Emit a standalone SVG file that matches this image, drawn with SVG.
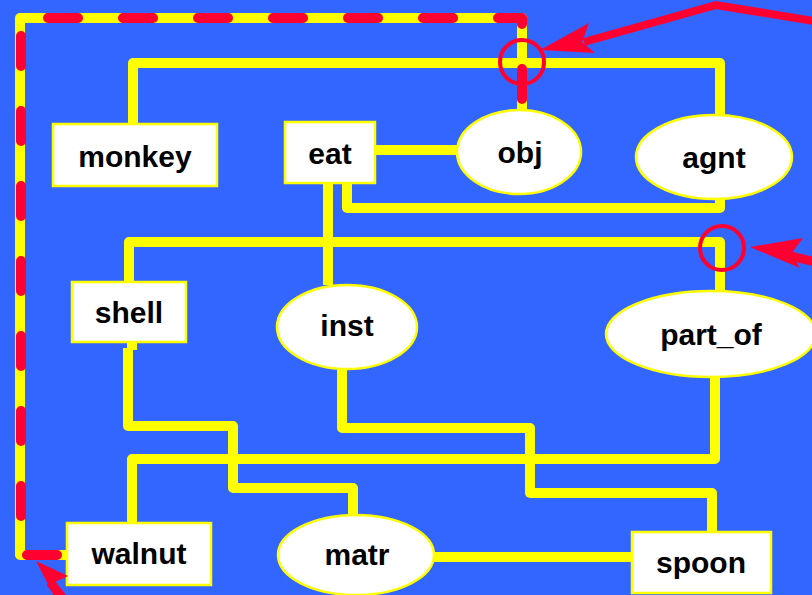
<svg xmlns="http://www.w3.org/2000/svg" width="812" height="595" viewBox="0 0 812 595">
  <style>
    .wire { fill: none; stroke: #FFFF00; stroke-width: 10; stroke-linejoin: round; stroke-linecap: butt; }
    .box { fill: #FFFFFF; stroke: #FFFF00; stroke-width: 2.5; }
    .label { font-family: "Liberation Sans", Arial, sans-serif; font-weight: bold; font-size: 30px; fill: #000000; text-anchor: middle; }
    .mark { fill: none; stroke: #FF0030; }
    .pointer { fill: #FF0030; stroke: none; }
  </style>

  <rect x="0" y="0" width="812" height="595" fill="#3366FF"/>

  <!-- connectors -->
  <g id="connectors">
    <!-- outer loop walnut -> obj -->
    <path class="wire" d="M 67 555 H 20 V 18 H 522 V 112"/>
    <!-- monkey -> agnt -->
    <path class="wire" d="M 133 125 V 63 H 720 V 117"/>
    <!-- eat -> obj -->
    <path class="wire" d="M 375 150 H 459"/>
    <!-- eat -> agnt (bottom) -->
    <path class="wire" d="M 347 183 V 208 H 720 V 198"/>
    <!-- eat -> inst -->
    <path class="wire" d="M 328 183 V 285"/>
    <!-- shell -> part_of -->
    <path class="wire" d="M 129 282 V 242 H 720 V 292"/>
    <!-- shell -> matr -->
    <path class="wire" d="M 132 342 V 350 M 128 348 V 426 H 233 V 488 H 353 V 516"/>
    <!-- inst -> spoon -->
    <path class="wire" d="M 342 369 V 428 H 530 V 493 H 712 V 533"/>
    <!-- part_of -> walnut -->
    <path class="wire" d="M 715 376 V 459 H 132 V 524"/>
    <!-- matr -> spoon -->
    <path class="wire" d="M 433 557 H 633"/>
  </g>

  <!-- nodes -->
  <g id="monkey">
    <rect class="box" x="53" y="124" width="164" height="62"/>
    <text class="label" x="135" y="167">monkey</text>
  </g>
  <g id="eat">
    <rect class="box" x="285" y="122" width="90" height="61"/>
    <text class="label" x="330" y="164">eat</text>
  </g>
  <g id="obj">
    <ellipse class="box" cx="519" cy="152" rx="62" ry="42"/>
    <text class="label" x="520" y="163">obj</text>
  </g>
  <g id="agnt">
    <ellipse class="box" cx="714" cy="157" rx="78" ry="42"/>
    <text class="label" x="714" y="168">agnt</text>
  </g>
  <g id="shell">
    <rect class="box" x="72" y="282" width="114" height="60"/>
    <text class="label" x="129" y="323">shell</text>
  </g>
  <g id="inst">
    <ellipse class="box" cx="347" cy="327" rx="70" ry="42"/>
    <text class="label" x="347" y="336">inst</text>
  </g>
  <g id="part_of">
    <ellipse class="box" cx="711" cy="334" rx="105" ry="43"/>
    <text class="label" x="711" y="345">part_of</text>
  </g>
  <g id="walnut">
    <rect class="box" x="67" y="523" width="144" height="62"/>
    <text class="label" x="139" y="564">walnut</text>
  </g>
  <g id="matr">
    <ellipse class="box" cx="356" cy="555" rx="78" ry="40"/>
    <text class="label" x="357" y="565">matr</text>
  </g>
  <g id="spoon">
    <rect class="box" x="632" y="532" width="139" height="61"/>
    <text class="label" x="701" y="573">spoon</text>
  </g>

  <!-- highlighted route and callouts -->
  <g id="highlight">
    <path class="mark" d="M 57 555 H 21 V 18 H 522 V 99" stroke-width="10" stroke-linecap="round" stroke-linejoin="round" stroke-dasharray="30 45"/>
    <circle class="mark" cx="522" cy="62" r="22" stroke-width="4"/>
    <circle class="mark" cx="722" cy="248" r="22" stroke-width="4"/>

    <!-- arrow to top crossing -->
    <path class="mark" d="M 820 22 L 716 5 L 584 42" stroke-width="8" stroke-linejoin="miter"/>
    <polygon class="pointer" points="540,50 589,23 582,42 595,53"/>

    <!-- arrow to right crossing -->
    <path class="mark" d="M 820 263 L 790 256" stroke-width="9"/>
    <polygon class="pointer" points="750,247 803,238 791,254 800,268"/>

    <!-- arrow to bottom-left corner -->
    <path class="mark" d="M 80 620 L 50 582" stroke-width="9"/>
    <polygon class="pointer" points="36,561 68,576 55,582 56,600"/>
  </g>
</svg>
